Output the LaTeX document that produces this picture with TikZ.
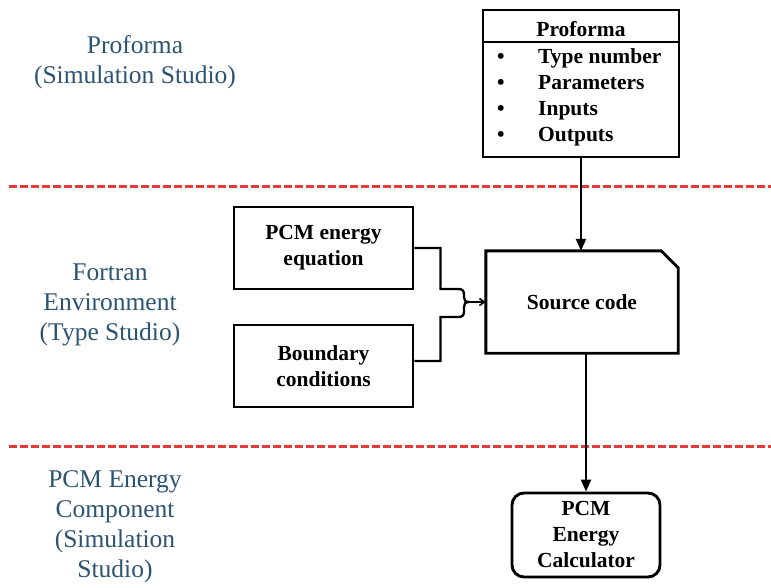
\documentclass[tikz,border=0pt]{standalone}
\usepackage{fontspec}
\setmainfont{Liberation Serif}
\usetikzlibrary{arrows.meta}
\definecolor{labelblue}{RGB}{44,84,114}
\definecolor{divred}{RGB}{228,58,58}
\begin{document}
\begin{tikzpicture}[x=1pt,y=-1pt,
  boxstyle/.style={draw, line width=2.9pt, fill=white, inner sep=0pt, align=center,
    font=\fontsize{21.5}{26}\selectfont\bfseries},
  btext/.style={inner sep=0pt, font=\fontsize{21.5}{26}\selectfont\bfseries},
  lbl/.style={text=labelblue, align=center, font=\fontsize{25.5}{30}\selectfont},
  divider/.style={divred, line width=3pt, dash pattern=on 7.5pt off 3.5pt},
  conn/.style={line width=2.3pt},
  arr/.style={conn, -{Triangle[length=12pt,width=10pt]}},
  brarr/.style={line width=1.6pt, -{Straight Barb[length=5pt,width=7pt]}}]
\useasboundingbox (0,0) rectangle (771,588);

% dividers
\draw[divider] (9,187) -- (771,187);
\draw[divider] (9,446) -- (771,446);

% left labels
\node[lbl] (l1) at (135,62) {Proforma\\(Simulation Studio)};
\node[lbl] (l2) at (110,305) {Fortran\\Environment\\(Type Studio)};
\node[lbl] (l3) at (115,527) {PCM Energy\\Component\\(Simulation\\Studio)};

% proforma box
\node[boxstyle, minimum width=196pt, minimum height=147pt] (pf) at (581,83.5) {};
\draw[line width=2.9pt] (pf.west |- 0,42) -- (pf.east |- 0,42);
\node[btext, anchor=base] (pft) at (581,37) {Proforma};
\node[btext, anchor=base] (d1) at (501,64) {•};
\node[btext, anchor=base] (d2) at (501,90) {•};
\node[btext, anchor=base] (d3) at (501,116) {•};
\node[btext, anchor=base] (d4) at (501,142) {•};
\node[btext, anchor=base west] (i1) at (538,64) {Type number};
\node[btext, anchor=base west] (i2) at (538,90) {Parameters};
\node[btext, anchor=base west] (i3) at (538,116) {Inputs};
\node[btext, anchor=base west] (i4) at (538,142) {Outputs};

% source code
\node[btext, minimum width=192pt, minimum height=102pt] (sc) at (582,302) {Source code};
\draw[line width=2.9pt] (sc.south west) -- (sc.north west) -- ([xshift=-17pt]sc.north east)
  -- ([yshift=-17pt]sc.north east) -- (sc.south east) -- cycle;

% left boxes
\node[boxstyle, minimum width=179pt, minimum height=82pt] (eq) at (323.5,248) {PCM energy\\equation};
\node[boxstyle, minimum width=179pt, minimum height=82pt] (bc) at (323.5,366) {Boundary\\conditions};

% calculator
\node[boxstyle, rounded corners=12pt, minimum width=148pt, minimum height=84pt] (calc) at (586,535) {PCM\\Energy\\Calculator};

% connectors
\draw[arr] (pf.south) -- (pf.south |- sc.north);
\draw[arr] (calc.north |- sc.south) -- (calc.north);

\coordinate (bj) at (469,302);
\draw[conn] (eq.east) -- ++(26,0) |- (458,289)
  .. controls (463,289) and (464,291) .. (464,295) -- (464,297)
  .. controls (464,300) and (465,302) .. (bj);
\draw[conn] ([yshift=5pt]bc.east) -- ++(26,0) |- (458,317)
  .. controls (463,317) and (464,315) .. (464,311) -- (464,307)
  .. controls (464,304) and (465,302) .. (bj);
\draw[brarr] (bj) -- (sc.west);
\end{tikzpicture}
\end{document}
